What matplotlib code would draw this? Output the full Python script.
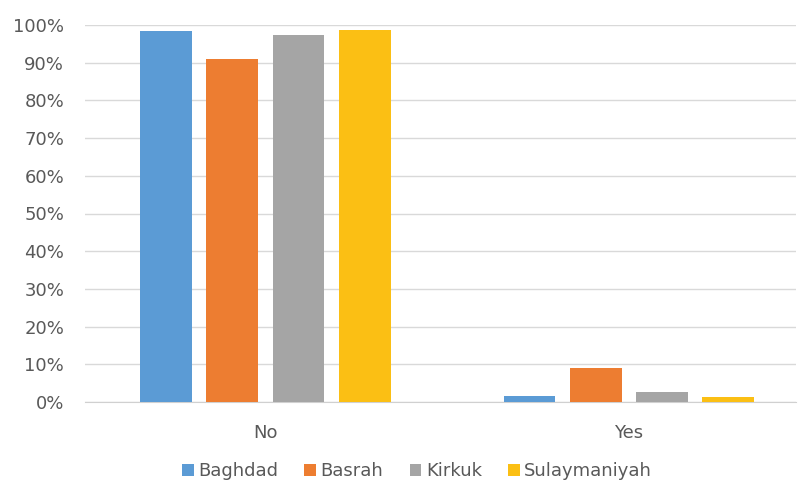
import matplotlib
matplotlib.use("Agg")
import matplotlib.pyplot as plt
import numpy as np
from matplotlib.ticker import PercentFormatter

categories = ["No", "Yes"]
series = ["Baghdad", "Basrah", "Kirkuk", "Sulaymaniyah"]
baghdad = [98.4, 1.5]
basrah = [91.0, 9.0]
kirkuk = [97.4, 2.6]
sulaymaniyah = [98.7, 1.3]
colors = ["#5b9bd5", "#ed7d31", "#a5a5a5", "#fbbf14"]

values = [baghdad, basrah, kirkuk, sulaymaniyah]

fig = plt.figure(figsize=(7.98, 4.84), dpi=100)
ax = fig.add_axes([85/798, 1 - 402/484, 711/798, 377/484])

x = np.arange(len(categories))
width = 0.143
step = 0.182
for i, (name, vals, c) in enumerate(zip(series, values, colors)):
    ax.bar(x + (i - 1.5) * step, vals, width, color=c, label=name, zorder=3)

ax.set_xlim(-0.497, 1.461)
ax.set_ylim(0, 100)
ax.set_yticks(np.arange(0, 101, 10))
ax.yaxis.set_major_formatter(PercentFormatter(decimals=0))
ax.set_xticks(x)
ax.set_xticklabels(categories)
ax.grid(axis="y", color="#d9d9d9", linewidth=1, zorder=0)
for s in ["top", "right", "left"]:
    ax.spines[s].set_visible(False)
ax.spines["bottom"].set_color("#d0d0d0")
ax.tick_params(axis="both", length=0, colors="#595959", labelsize=13)
ax.tick_params(axis="y", pad=15)
ax.tick_params(axis="x", pad=16)

leg = fig.legend(loc="center", bbox_to_anchor=(417/798, 1 - 471/484), ncol=4,
                 frameon=False, fontsize=13, handlelength=0.65, handleheight=0.65,
                 handletextpad=0.25, columnspacing=1.45)
for t in leg.get_texts():
    t.set_color("#595959")

fig.savefig("out.png", dpi=100)
